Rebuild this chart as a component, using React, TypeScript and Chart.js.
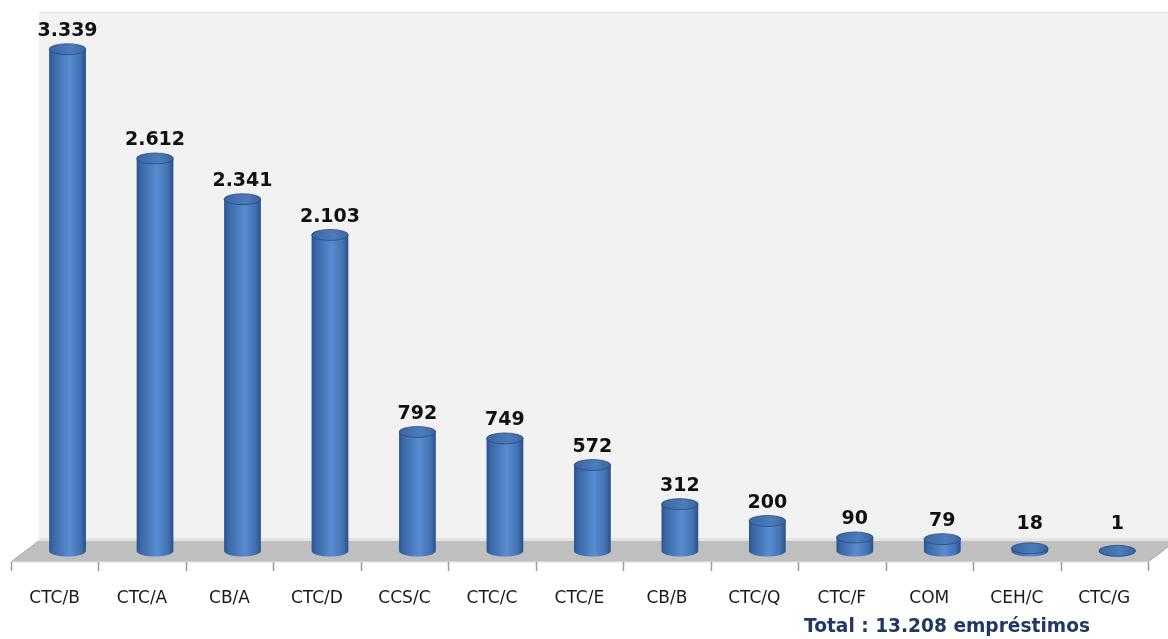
import React, { useEffect, useRef } from "react";
import { Chart, registerables } from "chart.js";

Chart.register(...registerables);

const categories = ["CTC/B", "CTC/A", "CB/A", "CTC/D", "CCS/C", "CTC/C", "CTC/E", "CB/B", "CTC/Q", "CTC/F", "COM", "CEH/C", "CTC/G"];
const loans = [3339, 2612, 2341, 2103, 792, 749, 572, 312, 200, 90, 79, 18, 1];
const totalLabel = "Total : 13.208 empréstimos";
const yMax = 3600;

const fmt = (v: number) => String(v).replace(/\B(?=(\d{3})+(?!\d))/g, ".");

const DEPTH = 28;
const BAR_SHIFT = 13;

const scenePlugin = {
  id: "scene",
  beforeDatasetsDraw(chart: any) {
    const ctx = chart.ctx as CanvasRenderingContext2D;
    const xs = chart.scales.x;
    const ys = chart.scales.y;
    const base = ys.getPixelForValue(0);
    const top = chart.chartArea.top + 2;
    const back = base - 10;
    const front = base + 11;
    const left = xs.left;
    const right = xs.right;
    ctx.save();
    // back wall
    ctx.fillStyle = "#F2F2F2";
    ctx.fillRect(left + DEPTH, top, chart.width - (left + DEPTH), back - top);
    ctx.fillStyle = "#E6E6E6";
    ctx.fillRect(left + DEPTH, top, chart.width - (left + DEPTH), 1.5);
    ctx.fillStyle = "#E4E4E4";
    ctx.fillRect(left + DEPTH, back - 3, chart.width - (left + DEPTH), 3);
    // floor
    ctx.beginPath();
    ctx.moveTo(left, front);
    ctx.lineTo(left + DEPTH, back);
    ctx.lineTo(right + DEPTH, back);
    ctx.lineTo(right, front);
    ctx.closePath();
    ctx.fillStyle = "#BFBFBF";
    ctx.fill();
    ctx.strokeStyle = "#A8A8A8";
    ctx.lineWidth = 1;
    ctx.beginPath();
    ctx.moveTo(left, front);
    ctx.lineTo(left + DEPTH, back);
    ctx.moveTo(right, front);
    ctx.lineTo(right + DEPTH, back);
    ctx.stroke();
    ctx.fillStyle = "#D6D6D6";
    ctx.fillRect(left, front - 1, right - left, 1.5);
    // ticks
    const n = categories.length;
    const step = (right - left) / n;
    ctx.strokeStyle = "#9C9C9C";
    ctx.lineWidth = 1.5;
    ctx.beginPath();
    for (let i = 0; i <= n; i++) {
      const tx = Math.round(left + i * step) + 0.5;
      ctx.moveTo(tx, front);
      ctx.lineTo(tx, front + 9);
    }
    ctx.stroke();
    ctx.restore();
  },
  afterDatasetsDraw(chart: any) {
    const ctx = chart.ctx as CanvasRenderingContext2D;
    const meta = chart.getDatasetMeta(0);
    const xs = chart.scales.x;
    ctx.save();
    meta.data.forEach((el: any, i: number) => {
      const p = el.getProps(["x", "y", "base", "width"], true);
      const cx = p.x + BAR_SHIFT;
      const rx = p.width / 2;
      const ry = 5.5;
      const ty = p.y;
      const bb = p.base;
      // body
      const grad = ctx.createLinearGradient(cx - rx, 0, cx + rx, 0);
      grad.addColorStop(0, "#2A5490");
      grad.addColorStop(0.12, "#3A68A8");
      grad.addColorStop(0.55, "#5A8CD0");
      grad.addColorStop(0.85, "#4272B3");
      grad.addColorStop(1, "#28508A");
      ctx.beginPath();
      ctx.moveTo(cx - rx, ty);
      ctx.lineTo(cx - rx, bb);
      ctx.ellipse(cx, bb, rx, ry, 0, Math.PI, 0, true);
      ctx.lineTo(cx + rx, ty);
      ctx.closePath();
      ctx.fillStyle = grad;
      ctx.fill();
      // top
      const tg = ctx.createLinearGradient(cx - rx, 0, cx + rx, 0);
      tg.addColorStop(0, "#3A66A2");
      tg.addColorStop(0.6, "#4C7CBB");
      tg.addColorStop(1, "#3A64A0");
      ctx.beginPath();
      ctx.ellipse(cx, ty, rx, ry, 0, 0, Math.PI * 2);
      ctx.fillStyle = tg;
      ctx.fill();
      ctx.strokeStyle = "rgba(38,72,120,0.75)";
      ctx.lineWidth = 1;
      ctx.stroke();
      // label
      ctx.font = 'bold 19px "DejaVu Sans"';
      ctx.fillStyle = "#111111";
      ctx.textAlign = "center";
      ctx.textBaseline = "middle";
      const ly = Math.min(ty - 18, bb - 27);
      ctx.fillText(fmt(loans[i]), cx, ly);
    });
    // total
    ctx.font = 'bold 18.6px "DejaVu Sans"';
    ctx.fillStyle = "#1F3864";
    ctx.textAlign = "right";
    ctx.textBaseline = "middle";
    ctx.fillText(totalLabel, xs.right - 58, chart.height - 12);
    ctx.restore();
  },
};

export default function App() {
  const ref = useRef<HTMLCanvasElement | null>(null);
  useEffect(() => {
    if (!ref.current) return;
    const chart = new Chart(ref.current, {
      type: "bar",
      data: {
        labels: categories,
        datasets: [
          {
            data: loans,
            backgroundColor: "rgba(0,0,0,0)",
            borderWidth: 0,
            categoryPercentage: 1,
            barPercentage: 0.42,
          },
        ],
      },
      options: {
        responsive: false,
        animation: false,
        events: [],
        layout: { padding: { top: 10, left: 7, right: 20, bottom: 0 } },
        plugins: { legend: { display: false }, tooltip: { enabled: false }, title: { display: false } },
        scales: {
          x: {
            offset: true,
            grid: { display: false },
            border: { display: false },
            ticks: {
              color: "#1A1A1A",
              font: { family: "DejaVu Sans", size: 17 },
              padding: 29,
              maxRotation: 0,
              autoSkip: false,
            },
            afterFit: (s: any) => {
              s.height = 88;
            },
          },
          y: { display: false, min: 0, max: yMax },
        },
      },
      plugins: [scenePlugin],
    } as any);
    return () => chart.destroy();
  }, []);
  return (
    <div style={{ position: "fixed", left: 0, top: 0, width: 1168, height: 639, background: "#fff" }}>
      <canvas ref={ref} width={1168} height={639} style={{ display: "block" }} />
    </div>
  );
}
